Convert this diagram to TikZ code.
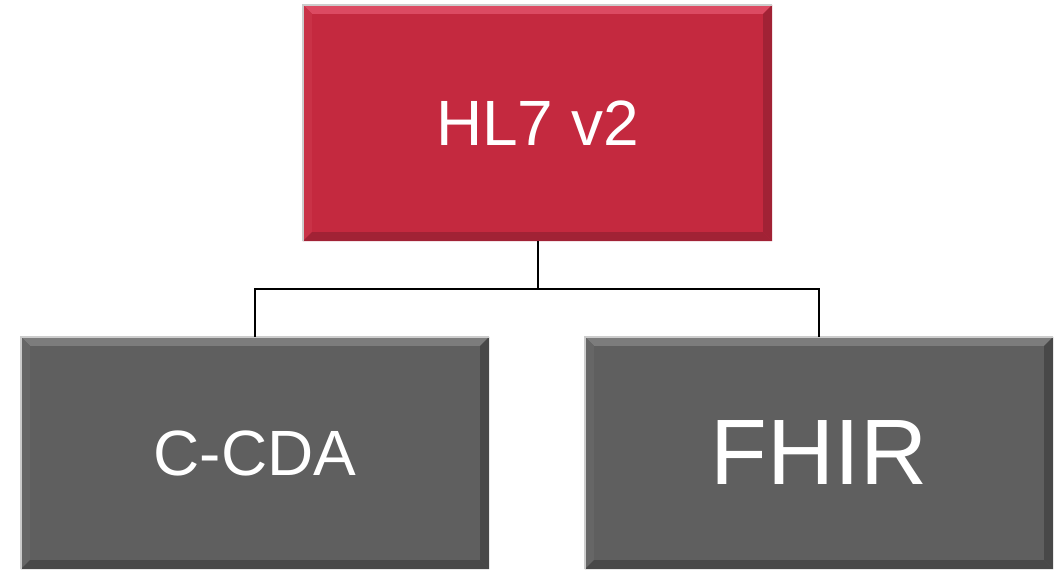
\documentclass[tikz,border=0pt]{standalone}
\usepackage{fontspec}
\setmainfont{Liberation Sans}
\usetikzlibrary{calc}
\definecolor{hlred}{HTML}{C4293F}
\definecolor{hlredlt}{HTML}{DC4A62}
\definecolor{hlredmid}{HTML}{C93247}
\definecolor{hlreddk}{HTML}{A12235}
\definecolor{hlgray}{HTML}{5F5F5F}
\definecolor{hlgraylt}{HTML}{7C7C7C}
\definecolor{hlgraymid}{HTML}{666666}
\definecolor{hlgraydk}{HTML}{484848}
\newcommand{\mybevel}[4]{%
  \fill[#2] (#1.north west) -- (#1.north east) -- ($(#1.north east)+(-9pt,-9pt)$) -- ($(#1.north west)+(9pt,-9pt)$) -- cycle;
  \fill[#3] (#1.north west) -- ($(#1.north west)+(9pt,-9pt)$) -- ($(#1.south west)+(9pt,9pt)$) -- (#1.south west) -- cycle;
  \fill[#4] (#1.north east) -- ($(#1.north east)+(-9pt,-9pt)$) -- ($(#1.south east)+(-9pt,9pt)$) -- (#1.south east) -- cycle;
  \fill[#4] (#1.south west) -- ($(#1.south west)+(9pt,9pt)$) -- ($(#1.south east)+(-9pt,9pt)$) -- (#1.south east) -- cycle;
  \draw[gray!40,line width=1.5pt] (#1.south west) -- (#1.north west) -- (#1.north east);
}
\tikzset{
  boxbase/.style={rectangle, inner sep=0pt, text=white},
  redbox/.style={boxbase, fill=hlred, minimum width=469pt, minimum height=236pt},
  graybox/.style={boxbase, fill=hlgray, minimum width=468pt, minimum height=232pt},
  conn/.style={draw=black, line width=2pt}
}
\begin{document}
\begin{tikzpicture}[x=1pt,y=1pt]
\useasboundingbox (0,0) rectangle (1064,570);
\node[redbox] (top) at (537.5,447) {};
\node[graybox] (left) at (255,117) {};
\node[graybox] (right) at (819,117) {};
\mybevel{top}{hlredlt}{hlredmid}{hlreddk}
\mybevel{left}{hlgraylt}{hlgraymid}{hlgraydk}
\mybevel{right}{hlgraylt}{hlgraymid}{hlgraydk}
\node[text=white, font=\fontsize{64}{70}\selectfont] (toptext) at (top.center) {HL7 v2};
\node[text=white, font=\fontsize{64}{70}\selectfont] (lefttext) at (left.center) {C-CDA};
\node[text=white, font=\fontsize{93}{100}\selectfont] (righttext) at (right.center) {FHIR};
\draw[conn] (top.south) -- ++(0,-48) coordinate (j);
\draw[conn] (left.north) |- (j) -| (right.north);
\end{tikzpicture}
\end{document}
